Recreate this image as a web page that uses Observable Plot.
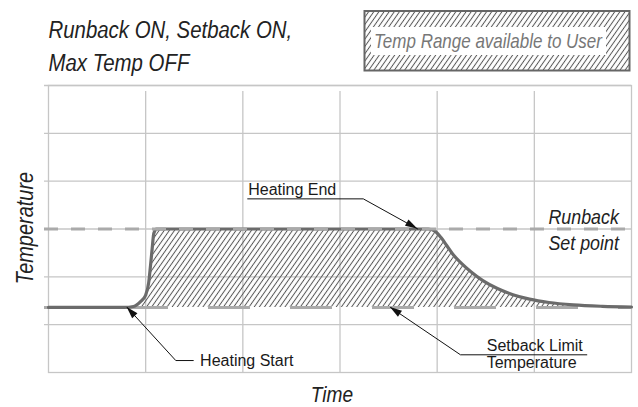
<!DOCTYPE html>
<html>
<head>
<meta charset="utf-8">
<script src="https://cdn.jsdelivr.net/npm/d3@7"></script>
<script src="https://cdn.jsdelivr.net/npm/@observablehq/plot@0.6"></script>
<style>
  html, body { margin: 0; padding: 0; background: #fff; }
  #chart svg { display: block; }
</style>
</head>
<body>
<div id="chart"></div>
<script>
// Temperature profile over time, on a 6 x 6 grid of arbitrary units
const time = [0, 0.78, 0.875, 0.947, 0.998, 1.032, 1.05, 1.067, 1.084, 1.111, 1.2,
              3.91, 3.98, 4.04, 4.10, 4.17, 4.25, 4.35, 4.47, 4.62, 4.78, 4.95, 5.15, 5.40, 5.70, 6.0];
const temperature = [1.36, 1.36, 1.38, 1.48, 1.61, 1.89, 2.24, 2.59, 2.91, 3.0, 3.0,
                     3.0, 2.95, 2.82, 2.65, 2.45, 2.28, 2.10, 1.92, 1.755, 1.627, 1.534, 1.464, 1.414, 1.384, 1.369];

// Reference levels
const runback = 3.0;
const setback = 1.36;

// Grid lines
const gridTime = [1, 2, 3, 4, 5];
const gridTemp = [1, 2, 3, 4, 5, 6];

// Callout leaders: tip (on the profile), elbow, end of underline
const leaderName = ["Heating Start", "Heating End", "Setback Limit"];
const leaderTime = [[0.81, 1.31, 1.49], [3.80, 3.24, 2.05], [3.52, 4.24, 5.54]];
const leaderTemp = [[1.36, 0.25, 0.25], [3.0, 3.63, 3.63], [1.36, 0.37, 0.37]];

// Callout texts
const calloutText = ["Heating Start", "Heating End", "Setback Limit", "Temperature"];
const calloutTime = [1.56, 2.055, 4.51, 4.51];
const calloutTemp = [0.25, 3.63, 0.37, 0.37];
const calloutAnchor = ["middle", "bottom", "bottom", "top"];

const titleText = "Runback ON, Setback ON,\nMax Temp OFF";
const legendText = "Temp Range available to User";
const runbackText = "Runback\nSet point";

const profile = time.map((t, i) => ({time: t, temp: temperature[i]}));
const leaderRows = leaderName.flatMap((name, i) =>
  leaderTime[i].map((t, j) => ({name, time: t, temp: leaderTemp[i][j]})));
const callouts = calloutText.map((text, i) =>
  ({text, time: calloutTime[i], temp: calloutTemp[i], anchor: calloutAnchor[i]}));

const sans = "'Liberation Sans', Arial, Helvetica, sans-serif";
const condense = 0.85; // horizontal squeeze for the condensed italic headings
const gridColor = "#c6c6c6";

// Diagonal hatch used for the usable temperature band and its key
function hatchDefs() {
  const defs = d3.create("svg:defs");
  const p = defs.append("pattern")
    .attr("id", "hatch")
    .attr("patternUnits", "userSpaceOnUse")
    .attr("width", 4.2).attr("height", 4.2)
    .attr("patternTransform", "rotate(35)");
  p.append("line")
    .attr("x1", 2.1).attr("x2", 2.1).attr("y1", 0).attr("y2", 4.2)
    .attr("stroke", "#555").attr("stroke-width", 1);
  return defs.node();
}

// Filled arrowheads at the tip of each leader
function arrowheads(index, scales) {
  const {x, y} = scales;
  const g = d3.create("svg:g").attr("fill", "#111");
  leaderTime.forEach((ts, i) => {
    const tx = x(ts[0]), ty = y(leaderTemp[i][0]);
    const fx = x(ts[1]), fy = y(leaderTemp[i][1]);
    const a = Math.atan2(ty - fy, tx - fx);
    const L = 12, W = 3.6;
    const bx = tx - L * Math.cos(a), by = ty - L * Math.sin(a);
    const px = -Math.sin(a) * W, py = Math.cos(a) * W;
    g.append("path").attr("d", `M${tx},${ty}L${bx + px},${by + py}L${bx - px},${by - py}Z`);
  });
  return g.node();
}

// Key box in the top-right corner
function legendBox(index, scales, values, dims) {
  const right = dims.width - dims.marginRight;
  const g = d3.create("svg:g");
  g.append("rect")
    .attr("x", right - 266.5).attr("y", 11).attr("width", 265).attr("height", 59.5)
    .attr("fill", "url(#hatch)").attr("stroke", "#666").attr("stroke-width", 2);
  g.append("rect")
    .attr("x", right - 260).attr("y", 27).attr("width", 235).attr("height", 28)
    .attr("fill", "#fff");
  g.append("text")
    .attr("transform", `translate(${right - 143},48) scale(${condense},1)`)
    .attr("text-anchor", "middle")
    .attr("font-family", sans).attr("font-style", "italic").attr("font-size", 20)
    .attr("fill", "#777")
    .text(legendText);
  return g.node();
}

const chart = Plot.plot({
  width: 638,
  height: 407,
  marginLeft: 48,
  marginRight: 7,
  marginTop: 85,
  marginBottom: 35,
  x: {domain: [0, 6], axis: null},
  y: {domain: [0, 6], axis: null},
  marks: [
    hatchDefs,
    Plot.ruleY(gridTemp, {x1: 0, x2: 6, stroke: gridColor, strokeWidth: 1.3, insetLeft: -4}),
    Plot.ruleX(gridTime, {y1: 0, y2: 6, stroke: gridColor, strokeWidth: 1.3, insetBottom: -6}),
    Plot.frame({stroke: gridColor, strokeWidth: 1.3}),
    Plot.areaY(profile, {x: "time", y1: setback, y2: "temp", fill: "url(#hatch)", curve: "monotone-x"}),
    Plot.ruleY([setback], {x1: 0, x2: 6, insetLeft: -4, stroke: "#aaa", strokeWidth: 3, strokeDasharray: "42,40"}),
    Plot.line(profile, {x: "time", y: "temp", stroke: "#6b6b6b", strokeWidth: 3.2, curve: "monotone-x"}),
    Plot.ruleY([runback], {x1: 0, x2: 6, insetLeft: -4, stroke: "#aaa", strokeWidth: 3, strokeDasharray: "14,13"}),
    Plot.line(leaderRows, {x: "time", y: "temp", z: "name", stroke: "#111", strokeWidth: 1}),
    arrowheads,
    Plot.text(callouts.filter(d => d.anchor === "middle"), {
      x: "time", y: "temp", text: "text", textAnchor: "start", lineAnchor: "middle",
      fontFamily: sans, fontSize: 16, fill: "#1a1a1a"
    }),
    Plot.text(callouts.filter(d => d.anchor === "bottom"), {
      x: "time", y: "temp", text: "text", textAnchor: "start", lineAnchor: "bottom", dy: -3.5,
      fontFamily: sans, fontSize: 16, fill: "#1a1a1a"
    }),
    Plot.text(callouts.filter(d => d.anchor === "top"), {
      x: "time", y: "temp", text: "text", textAnchor: "start", lineAnchor: "top", dy: 2,
      fontFamily: sans, fontSize: 16, fill: "#1a1a1a"
    }),
    Plot.text([runbackText], {
      x: 5.87, y: runback, text: d => d, textAnchor: "end", lineAnchor: "middle", lineHeight: 26 / 21,
      fontFamily: sans, fontStyle: "italic", fontSize: 21, fill: "#222"
    }),
    Plot.text(["Time"], {
      frameAnchor: "bottom", text: d => d, textAnchor: "middle", lineAnchor: "bottom", dx: -8, dy: 29.5,
      fontFamily: sans, fontStyle: "italic", fontSize: 22.5, fill: "#222"
    }),
    Plot.text(["Temperature"], {
      frameAnchor: "left", text: d => d, rotate: -90, textAnchor: "middle", lineAnchor: "bottom", dx: -16, dy: -1,
      fontFamily: sans, fontStyle: "italic", fontSize: 23.5, fill: "#222"
    }),
    Plot.text([titleText], {
      frameAnchor: "top-left", text: d => d, textAnchor: "start", lineAnchor: "bottom",
      dy: -15, lineHeight: 33 / 24,
      fontFamily: sans, fontStyle: "italic", fontSize: 24, fill: "#222"
    }),
    legendBox
  ]
});

// The italic headings are set in a condensed cut: squeeze them horizontally
d3.select(chart).selectAll('g[font-style="italic"] > text').each(function () {
  const t = this.getAttribute("transform") || "";
  this.setAttribute("transform", `${t} scale(${condense},1)`);
});

document.getElementById("chart").appendChild(chart);
</script>
</body>
</html>
